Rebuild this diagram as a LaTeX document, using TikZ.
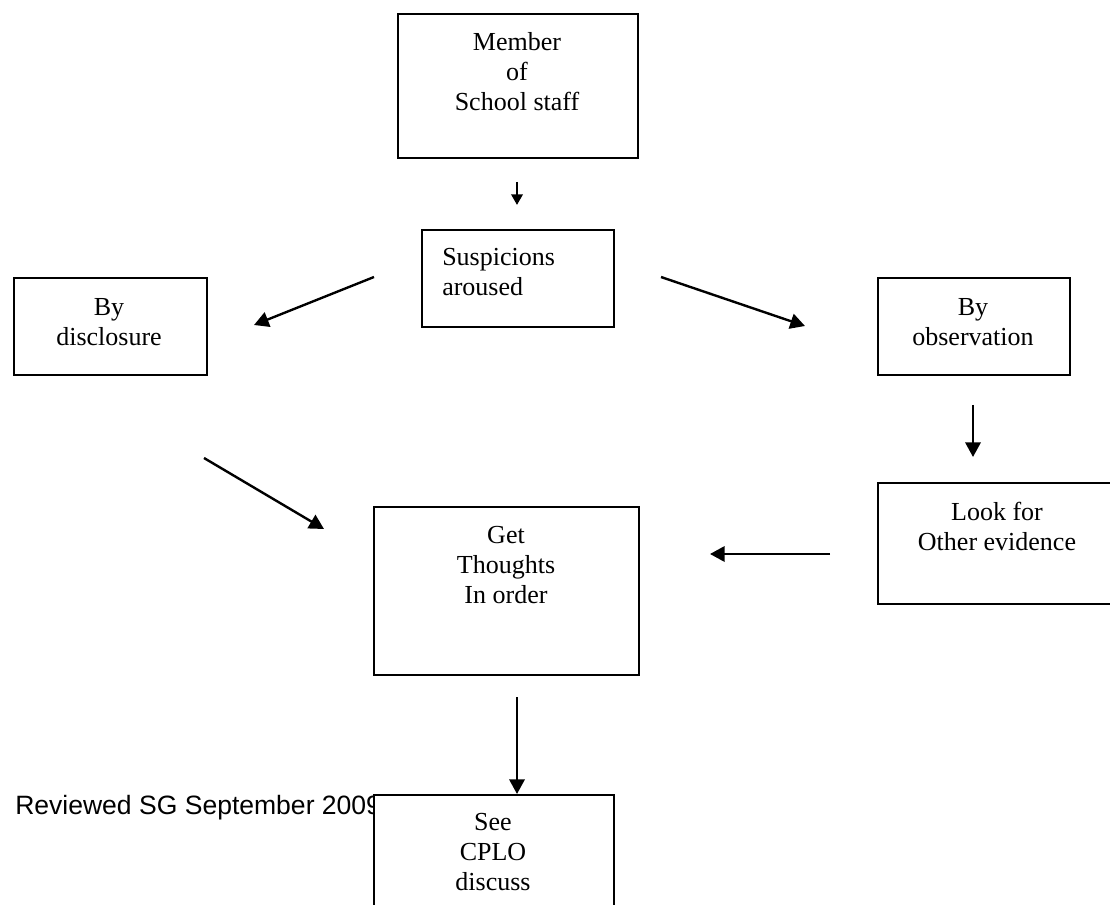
\documentclass[tikz,border=0pt]{standalone}
\usepackage{fontspec}
\setmainfont{Liberation Serif}
\setsansfont{Liberation Sans}
\usetikzlibrary{arrows.meta}
\newlength{\pxu}
\setlength{\pxu}{0.75pt}

\begin{document}
\begin{tikzpicture}[x=0.75pt, y=-0.75pt,
  box/.style={draw, line width=1.4pt, fill=white, inner sep=0pt, anchor=north west},
  txt/.style={font=\fontsize{19.5}{22.5}\selectfont, align=center, inner sep=0pt,
    anchor=north, execute at begin node=\strut},
  arr/.style={line width=1.8pt, -{Triangle[length=11pt, width=11.5pt]}}]

  % Hoja
  \useasboundingbox (0,0) rectangle (1110,905);
  \clip (0,0) rectangle (1110,905);

  % Nota al pie
  \node[font=\sffamily\fontsize{19.9}{23}\selectfont, anchor=base west, inner sep=0pt]
    (review) at (15,814) {Reviewed SG September 2009};

  % Cajas
  \node[box, minimum width=240\pxu, minimum height=144\pxu] (member)   at (397,13)  {};
  \node[box, minimum width=192\pxu, minimum height=97\pxu]  (susp)     at (421,229) {};
  \node[box, minimum width=193\pxu, minimum height=97\pxu]  (discl)    at (13,277)  {};
  \node[box, minimum width=192\pxu, minimum height=97\pxu]  (observ)   at (877,277) {};
  \node[box, minimum width=240\pxu, minimum height=121\pxu] (lookfor)  at (877,482) {};
  \node[box, minimum width=265\pxu, minimum height=168\pxu] (thoughts) at (373,506) {};
  \node[box, minimum width=240\pxu, minimum height=150\pxu] (cplo)     at (373,794) {};

  % Textos
  \node[txt] (member-t)   at (517,32)  {Member\\of\\School staff};
  \node[txt, align=left, anchor=north west] (susp-t) at (442,248) {Suspicions\\aroused};
  \node[txt] (discl-t)    at (109,298) {By\\disclosure};
  \node[txt] (observ-t)   at (973,298) {By\\observation};
  \node[txt] (lookfor-t)  at (997,502) {Look for\\Other evidence};
  \node[txt] (thoughts-t) at (506,526) {Get\\Thoughts\\In order};
  \node[txt] (cplo-t)     at (493,813) {See\\CPLO\\discuss};

  % Extremos de las flechas
  \coordinate (a1) at (517,182);  \coordinate (b1) at (517,205);
  \coordinate (a2) at (374,277);  \coordinate (b2) at (254,325);
  \coordinate (a3) at (661,277);  \coordinate (b3) at (805,326);
  \coordinate (a4) at (973,405);  \coordinate (b4) at (973,457);
  \coordinate (a5) at (830,554);  \coordinate (b5) at (710,554);
  \coordinate (a6) at (204,458);  \coordinate (b6) at (324,529);
  \coordinate (a7) at (517,697);  \coordinate (b7) at (517,794);

  % Flechas
  \draw[line width=1.8pt, -{Triangle[length=8pt, width=8.5pt]}] (a1) -- (b1);
  \foreach \i in {2,...,7}
    \draw[arr] (a\i) -- (b\i);

\end{tikzpicture}
\end{document}
